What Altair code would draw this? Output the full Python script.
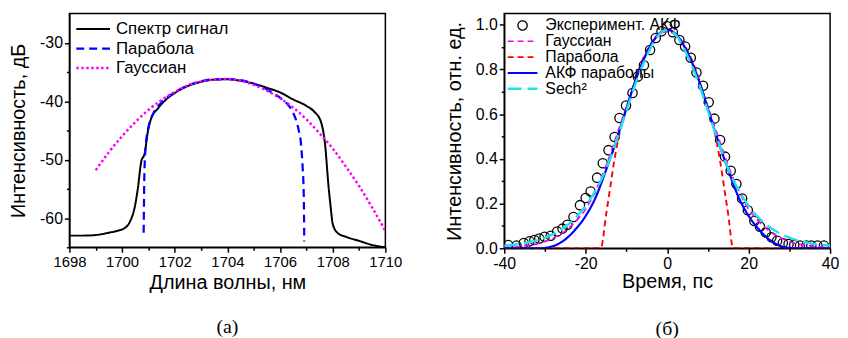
import altair as alt
import pandas as pd

FONT = "Liberation Sans"

# ---------------- Left panel: spectrum ----------------
left_series = ["Спектр сигнал", "Парабола", "Гауссиан"]
left_colors = ["#000000", "#0000FF", "#FF00FF"]

spec_wl = [1698.0, 1698.5, 1699.0, 1699.5, 1699.8, 1700.1, 1700.3, 1700.5, 1700.6, 1700.73,
           1700.86, 1700.98, 1701.1, 1701.35, 1701.7, 1702.0, 1702.5, 1703.0, 1703.5, 1704.0,
           1704.5, 1705.0, 1705.5, 1706.0, 1706.5, 1707.0, 1707.3, 1707.55, 1707.7, 1707.85,
           1707.92, 1708.0, 1708.2, 1708.5, 1709.0, 1709.5, 1710.0]
spec_db = [-63.0, -63.0, -62.9, -62.5, -62.2, -61.7, -60.6, -57.7, -54.9, -50.3,
           -48.9, -45.2, -43.0, -41.3, -39.6, -38.6, -37.4, -36.7, -36.3, -36.25,
           -36.5, -37.0, -37.7, -38.5, -39.7, -40.8, -41.8, -43.5, -47.0, -55.0,
           -58.0, -61.0, -62.6, -63.2, -63.9, -64.6, -65.0]

para_wl = [1700.82, 1700.85, 1700.9, 1701.0, 1701.2, 1701.5, 1702.0, 1702.5, 1703.0, 1703.5,
           1704.0, 1704.5, 1705.0, 1705.5, 1706.0, 1706.3, 1706.5, 1706.7, 1706.8, 1706.86,
           1706.9, 1706.92]
para_db = [-62.5, -52.0, -47.5, -44.5, -42.0, -40.2, -38.5, -37.3, -36.6, -36.25,
           -36.2, -36.4, -37.0, -38.0, -39.4, -40.6, -42.0, -44.8, -47.5, -51.5,
           -56.0, -64.0]

gaus_wl = [1699.0, 1699.5, 1700.0, 1700.5, 1701.0, 1701.5, 1702.0, 1702.5, 1703.0, 1703.5,
           1704.0, 1704.5, 1705.0, 1705.5, 1706.0, 1706.5, 1707.0, 1707.5, 1708.0, 1708.5,
           1709.0, 1709.5, 1710.0]
gaus_db = [-51.8, -48.7, -46.0, -43.6, -41.5, -39.8, -38.4, -37.3, -36.6, -36.3,
           -36.2, -36.5, -37.2, -38.2, -39.5, -41.1, -43.1, -45.5, -48.1, -51.2,
           -54.5, -58.2, -62.2]

rows = []
for name, xs, ys in zip(left_series, [spec_wl, para_wl, gaus_wl], [spec_db, para_db, gaus_db]):
    for x, y in zip(xs, ys):
        rows.append({"spectrum": name, "wl": x, "db": y})
left_df = pd.DataFrame(rows)

left_x_ticks = list(range(1698, 1711))
left_y_ticks = [-65, -60, -55, -50, -45, -40, -35, -30]

left_legend = alt.Legend(title=None, orient="none", legendX=14, legendY=6,
                         symbolType="M-2,0H2", symbolSize=289, symbolStrokeWidth=2.5,
                         labelFont=FONT, labelFontSize=17, labelColor="black",
                         labelOffset=13, rowPadding=1.5, labelLimit=300)

left = alt.Chart(left_df).mark_line(clip=True, interpolate="monotone").encode(
    x=alt.X("wl:Q", scale=alt.Scale(domain=[1698, 1710], nice=False, zero=False),
            axis=alt.Axis(values=left_x_ticks, title="Длина волны, нм", labelOverlap=False,
                          labelFlush=False, labelFontSize=15,
                          labelExpr="datum.value % 2 == 0 ? '' + datum.value : ''",
                          tickSize={"condition": {"test": "datum.value % 2 == 0", "value": 5}, "value": 3},
                          titlePadding=4)),
    y=alt.Y("db:Q", scale=alt.Scale(domain=[-65, -25], nice=False, zero=False),
            axis=alt.Axis(values=left_y_ticks, title="Интенсивность, дБ", labelOverlap=False,
                          labelExpr="datum.value % 10 == 0 ? '' + datum.value : ''",
                          tickSize={"condition": {"test": "datum.value % 10 == 0", "value": 5}, "value": 3},
                          titlePadding=11)),
    color=alt.Color("spectrum:N", sort=left_series,
                    scale=alt.Scale(domain=left_series, range=left_colors),
                    legend=left_legend),
    strokeDash=alt.StrokeDash("spectrum:N", sort=left_series,
                              scale=alt.Scale(domain=left_series, range=[[1, 0], [8, 5], [2.5, 2.5]]),
                              legend=left_legend),
    strokeWidth=alt.StrokeWidth("spectrum:N", scale=alt.Scale(domain=left_series, range=[2, 2.5, 3]),
                                legend=None),
).properties(
    width=319, height=236,
    title=alt.Title("(а)", orient="bottom", frame="group", anchor="middle", offset=25,
                    font="Liberation Serif", fontSize=20, fontWeight="normal", color="black"),
)

# ---------------- Right panel: autocorrelation ----------------
right_series = ["Эксперимент. АКФ", "Гауссиан", "Парабола", "АКФ параболы", "Sech²"]
right_colors = ["#000000", "#FF00FF", "#FF0000", "#0000FF", "#20E0E8"]
right_dashes = [[1, 0], [6, 4], [6, 4], [1, 0], [14, 6]]
line_sym = "M-2.5,0H2.5"
circle_sym = "M-0.78,0A0.78,0.78,0,1,1,0.78,0A0.78,0.78,0,1,1,-0.78,0Z"
right_shapes = [circle_sym, line_sym, line_sym, line_sym, line_sym]
right_widths = [1.3, 2.5, 2.5, 2.5, 2.5]

exp_t = [-39.0, -37.0, -35.2, -33.8, -32.6, -31.4, -30.1, -28.6, -27.0, -25.7,
         -24.5, -23.0, -21.4, -20.0, -18.8, -17.2, -15.8, -14.4, -12.9, -11.7,
         -10.1, -8.5, -7.2, -5.7, -4.2, -2.8, -1.4, 0.0, 1.4, 3.0,
         4.4, 5.8, 7.2, 8.8, 10.2, 11.6, 13.0, 14.2, 15.6, 17.0,
         18.4, 19.8, 21.4, 22.8, 24.2, 25.6, 27.0, 28.4, 29.8, 31.2,
         32.6, 34.2, 35.4, 36.9, 38.5]
exp_v = [0.015, 0.012, 0.024, 0.031, 0.037, 0.044, 0.052, 0.056, 0.075, 0.088,
         0.105, 0.140, 0.193, 0.225, 0.254, 0.316, 0.380, 0.439, 0.498, 0.583,
         0.639, 0.695, 0.768, 0.819, 0.887, 0.941, 0.971, 0.993, 0.966, 0.932,
         0.903, 0.852, 0.786, 0.727, 0.653, 0.580, 0.484, 0.410, 0.347, 0.288,
         0.223, 0.170, 0.122, 0.096, 0.071, 0.049, 0.034, 0.024, 0.019, 0.015,
         0.012, 0.012, 0.012, 0.012, 0.012]

gauss_t = [-40, -35, -30, -27.5, -25, -22.5, -20, -17.5, -15, -12.5, -10, -7.5, -5, -2.5, 0,
           2.5, 5, 7.5, 10, 12.5, 15, 17.5, 20, 22.5, 25, 27.5, 30, 35, 40]
gauss_v = [0.003, 0.011, 0.030, 0.050, 0.078, 0.120, 0.175, 0.260, 0.370, 0.500, 0.635, 0.765, 0.875, 0.945, 0.970,
           0.945, 0.875, 0.765, 0.635, 0.500, 0.370, 0.260, 0.175, 0.120, 0.078, 0.050, 0.030, 0.011, 0.003]

para_t = [-40, -16.3, -15, -14, -13, -12, -11, -10, -8, -6, -4, -2, 0,
          2, 4, 6, 8, 10, 11, 12, 13, 14, 15, 16.2, 40]
para_v = [0, 0, 0.15, 0.27, 0.39, 0.49, 0.565, 0.625, 0.745, 0.845, 0.915, 0.96, 0.975,
          0.96, 0.915, 0.845, 0.745, 0.625, 0.565, 0.49, 0.39, 0.27, 0.15, 0, 0]

acf_t = [-40, -31, -29, -27, -25, -22.5, -20, -17.5, -15, -12.5, -10, -7.5, -5, -2.5, 0,
         2.5, 5, 7.5, 10, 12.5, 15, 17.5, 20, 22.5, 25, 27, 29, 31, 40]
acf_v = [0, 0, 0.005, 0.017, 0.040, 0.085, 0.145, 0.230, 0.350, 0.480, 0.625, 0.765, 0.875, 0.950, 0.978,
         0.950, 0.875, 0.765, 0.625, 0.480, 0.350, 0.230, 0.145, 0.085, 0.040, 0.017, 0.005, 0, 0]

sech_t = [-40, -35, -30, -27.5, -25, -22.5, -20, -17.5, -15, -12.5, -10, -7.5, -5, -2.5, 0,
          2.5, 5, 7.5, 10, 12.5, 15, 17.5, 20, 22.5, 25, 27.5, 30, 35, 40]
sech_v = [0.011, 0.023, 0.048, 0.068, 0.096, 0.136, 0.190, 0.261, 0.354, 0.480, 0.615, 0.750, 0.860, 0.945, 0.978,
          0.945, 0.860, 0.750, 0.615, 0.480, 0.354, 0.261, 0.190, 0.136, 0.096, 0.068, 0.048, 0.023, 0.011]

lrows = []
for name, xs, ys in zip(right_series[1:], [gauss_t, para_t, acf_t, sech_t],
                        [gauss_v, para_v, acf_v, sech_v]):
    for x, y in zip(xs, ys):
        lrows.append({"curve": name, "t": x, "v": y})
rlines_df = pd.DataFrame(lrows)
exp_df = pd.DataFrame({"curve": right_series[0], "t": exp_t, "v": exp_v})

right_x_ticks = [-40, -30, -20, -10, 0, 10, 20, 30, 40]
right_y_ticks = [0.0, 0.1, 0.2, 0.3, 0.4, 0.5, 0.6, 0.7, 0.8, 0.9, 1.0]

rx = alt.X("t:Q", scale=alt.Scale(domain=[-40, 40], nice=False, zero=False),
           axis=alt.Axis(values=right_x_ticks, title="Время, пс", labelOverlap=False,
                         labelFlush=False,
                         labelExpr="datum.value % 20 == 0 ? '' + datum.value : ''",
                         tickSize={"condition": {"test": "datum.value % 20 == 0", "value": 5}, "value": 3},
                         titlePadding=1))
ry = alt.Y("v:Q", scale=alt.Scale(domain=[0, 1.05], nice=False, zero=False),
           axis=alt.Axis(values=right_y_ticks, title="Интенсивность, отн. ед.", labelOverlap=False,
                         labelExpr="round(datum.value * 10) % 2 == 0 ? format(datum.value, '.1f') : ''",
                         tickSize={"condition": {"test": "round(datum.value * 10) % 2 == 0", "value": 5}, "value": 3},
                         titlePadding=11))

right_legend = alt.Legend(
    title=None, orient="none", legendX=10.5, legendY=4,
    symbolSize=144, symbolStrokeWidth=2.5, symbolFillColor="transparent",
    labelFont=FONT, labelFontSize=16, labelColor="black",
    labelOffset=15, rowPadding=0, labelLimit=300,
)

rcolor = alt.Color("curve:N", sort=right_series,
                   scale=alt.Scale(domain=right_series, range=right_colors),
                   legend=right_legend)
rshape = alt.Shape("curve:N", sort=right_series,
                   scale=alt.Scale(domain=right_series, range=right_shapes), legend=right_legend)
rwidth = alt.StrokeWidth("curve:N", sort=right_series,
                         scale=alt.Scale(domain=right_series, range=right_widths), legend=right_legend)
rdash = alt.StrokeDash("curve:N", sort=right_series,
                       scale=alt.Scale(domain=right_series, range=right_dashes), legend=right_legend)

points = alt.Chart(exp_df).mark_point(filled=False, opacity=1, clip=True, size=144).encode(
    x=rx, y=ry, color=rcolor, shape=rshape, strokeWidth=rwidth)

rlines = alt.Chart(rlines_df).mark_line(clip=True, interpolate="monotone").encode(
    x=rx, y=ry, color=rcolor, strokeDash=rdash, strokeWidth=rwidth,
)

right = alt.layer(points, rlines).properties(
    width=329, height=237,
    title=alt.Title("(б)", orient="bottom", frame="group", anchor="middle", offset=28,
                    font="Liberation Serif", fontSize=20, fontWeight="normal", color="black"),
)

chart = alt.hconcat(left, right, spacing=41).resolve_scale(
    color="independent", strokeDash="independent", strokeWidth="independent",
    shape="independent", x="independent", y="independent",
).resolve_legend(
    color="independent", strokeDash="independent", strokeWidth="independent",
    shape="independent",
).properties(
    padding={"left": 0, "top": 3, "right": 0, "bottom": 0}
).configure_axis(
    grid=False, domainColor="black", domainWidth=1.5, tickColor="black", tickWidth=1.5,
    labelFont=FONT, labelFontSize=16, labelColor="black", labelPadding=2,
    titleFont=FONT, titleFontSize=20, titleFontWeight="normal", titleColor="black",
).configure_view(stroke="black", strokeWidth=1.5)

chart.save("out.html", embed_options={"renderer": "svg", "actions": False})
